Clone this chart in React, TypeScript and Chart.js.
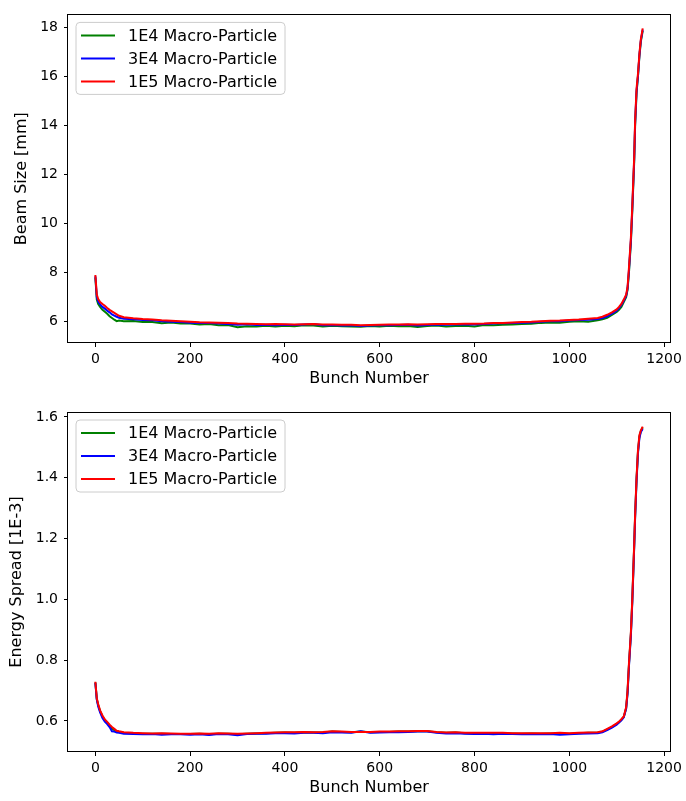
import React, { useEffect, useRef } from "react";
import { Chart, registerables } from "chart.js";

Chart.register(...registerables);

// ---------- data ----------
const bunchNumbers = [
  0, 3, 6, 10, 15, 20, 25, 30, 35, 40, 45, 50,
  60, 80, 100, 120, 140, 160, 180, 200,
  220, 240, 260, 280, 300, 320, 340, 360,
  380, 400, 420, 440, 460, 480, 500, 520,
  540, 560, 580, 600, 620, 640, 660, 680,
  700, 720, 740, 760, 780, 800, 820, 840,
  860, 880, 900, 920, 940, 960, 980, 1000,
  1020, 1040, 1060,
  1070, 1080, 1090, 1100, 1105, 1110, 1115, 1120, 1123, 1126, 1130, 1133, 1137, 1139, 1142, 1145, 1148, 1151, 1155,
];

const beamSize1E4 = [
  7.8, 6.9, 6.72, 6.6, 6.48, 6.4, 6.32, 6.22, 6.15, 6.08, 6.02, 6.05,
  6.02, 6.03, 5.99, 5.99, 5.94, 5.97, 5.92, 5.92,
  5.88, 5.9, 5.85, 5.86, 5.77, 5.81, 5.8, 5.83,
  5.8, 5.83, 5.81, 5.85, 5.84, 5.8, 5.83, 5.81,
  5.8, 5.79, 5.82, 5.8, 5.83, 5.81, 5.82, 5.78,
  5.82, 5.84, 5.8, 5.82, 5.83, 5.8, 5.86, 5.85,
  5.87, 5.88, 5.9, 5.91, 5.95, 5.97, 5.96, 6.0,
  6.02, 6.0, 6.06,
  6.1, 6.16, 6.28, 6.4, 6.48, 6.6, 6.8, 7.0, 7.3, 8.0, 9.2, 10.5, 12.5, 14.0, 15.3, 16.0, 16.8, 17.4, 17.85,
];

const beamSize3E4 = [
  7.85, 7.0, 6.82, 6.7, 6.6, 6.53, 6.45, 6.38, 6.3, 6.25, 6.2, 6.16,
  6.12, 6.1, 6.07, 6.06, 6.02, 6.0, 5.99, 5.96,
  5.95, 5.94, 5.92, 5.9, 5.87, 5.89, 5.86, 5.87,
  5.85, 5.87, 5.86, 5.88, 5.9, 5.85, 5.86, 5.84,
  5.85, 5.82, 5.84, 5.85, 5.85, 5.86, 5.87, 5.84,
  5.86, 5.88, 5.87, 5.88, 5.89, 5.88, 5.9, 5.92,
  5.93, 5.95, 5.96, 5.97, 6.0, 6.02, 6.02, 6.05,
  6.07, 6.08, 6.11,
  6.15, 6.22, 6.33, 6.45, 6.55, 6.68, 6.85, 7.05, 7.35, 8.1, 9.3, 10.6, 12.6, 14.1, 15.4, 16.0, 16.85, 17.45, 17.9,
];

const beamSize1E5 = [
  7.9, 7.1, 6.92, 6.8, 6.72, 6.65, 6.56, 6.48, 6.42, 6.36, 6.3, 6.24,
  6.18, 6.14, 6.11, 6.09, 6.06, 6.04, 6.02, 6.0,
  5.98, 5.97, 5.96, 5.94, 5.92, 5.91, 5.9, 5.89,
  5.9, 5.89, 5.88, 5.89, 5.9, 5.88, 5.88, 5.87,
  5.87, 5.85, 5.86, 5.87, 5.88, 5.88, 5.89, 5.88,
  5.89, 5.9, 5.9, 5.9, 5.91, 5.91, 5.92, 5.94,
  5.95, 5.97, 5.99, 6.0, 6.02, 6.04, 6.05, 6.07,
  6.09, 6.12, 6.15,
  6.2, 6.28, 6.38, 6.5, 6.6, 6.72, 6.9, 7.1, 7.4, 8.2, 9.4, 10.7, 12.7, 14.2, 15.5, 16.1, 16.9, 17.5, 17.95,
];

const spread1E4 = [
  0.727, 0.672, 0.652, 0.632, 0.615, 0.602, 0.594, 0.585, 0.575, 0.57, 0.566, 0.564,
  0.561, 0.56, 0.558, 0.558, 0.558, 0.557, 0.557, 0.557,
  0.558, 0.556, 0.558, 0.558, 0.556, 0.558, 0.559, 0.56,
  0.561, 0.562, 0.561, 0.563, 0.562, 0.562, 0.565, 0.564,
  0.563, 0.565, 0.563, 0.564, 0.564, 0.565, 0.565, 0.566,
  0.566, 0.563, 0.561, 0.562, 0.56, 0.559, 0.56, 0.559,
  0.56, 0.559, 0.558, 0.559, 0.558, 0.559, 0.558, 0.558,
  0.56, 0.561, 0.562,
  0.565, 0.572, 0.58, 0.59, 0.596, 0.604, 0.613, 0.642, 0.695, 0.785, 0.885, 0.995, 1.175, 1.275, 1.395, 1.485, 1.535, 1.553, 1.565,
];

const spread3E4 = [
  0.725, 0.67, 0.648, 0.628, 0.61, 0.598, 0.59, 0.58, 0.566, 0.565, 0.562, 0.561,
  0.558, 0.557, 0.556, 0.557, 0.555, 0.556, 0.556, 0.555,
  0.556, 0.554, 0.557, 0.556, 0.553, 0.557, 0.558, 0.558,
  0.56, 0.56, 0.559, 0.561, 0.561, 0.56, 0.563, 0.562,
  0.561, 0.566, 0.561, 0.562, 0.563, 0.563, 0.564, 0.565,
  0.565, 0.561, 0.559, 0.56, 0.558, 0.557, 0.558, 0.556,
  0.558, 0.557, 0.556, 0.557, 0.556, 0.557, 0.555, 0.556,
  0.558, 0.559, 0.56,
  0.563, 0.57, 0.578, 0.588, 0.595, 0.602, 0.612, 0.64, 0.69, 0.78, 0.88, 0.99, 1.17, 1.27, 1.39, 1.48, 1.53, 1.55, 1.56,
];

const spread1E5 = [
  0.729, 0.675, 0.655, 0.635, 0.618, 0.605, 0.597, 0.588, 0.58, 0.574, 0.568, 0.566,
  0.563, 0.561, 0.56, 0.559, 0.56, 0.559, 0.558, 0.558,
  0.559, 0.558, 0.56, 0.559, 0.558, 0.559, 0.56, 0.561,
  0.562, 0.563, 0.563, 0.564, 0.563, 0.564, 0.566, 0.565,
  0.564, 0.564, 0.564, 0.565, 0.565, 0.566, 0.566, 0.567,
  0.567, 0.564, 0.562, 0.563, 0.561, 0.561, 0.561, 0.561,
  0.561, 0.56, 0.56, 0.56, 0.56, 0.56, 0.561, 0.56,
  0.561, 0.562, 0.563,
  0.566, 0.574, 0.582, 0.592, 0.598, 0.606, 0.615, 0.645, 0.7, 0.79, 0.89, 1.0, 1.18, 1.28, 1.4, 1.49, 1.54, 1.555, 1.568,
];

const xTickValues = [0, 200, 400, 600, 800, 1000, 1200];
const beamTickValues = [6, 8, 10, 12, 14, 16, 18];
const spreadTickValues = [0.6, 0.8, 1.0, 1.2, 1.4, 1.6];

const seriesLabels = ["1E4 Macro-Particle", "3E4 Macro-Particle", "1E5 Macro-Particle"];
const seriesColors = ["#008000", "#0000ff", "#ff0000"];

const FONT = "'DejaVu Sans', Verdana, sans-serif";

// ---------- plugin: frame + in-plot legend ----------
const frameLegendPlugin = {
  id: "frameLegend",
  afterDatasetsDraw(chart: any) {
    const { ctx, chartArea } = chart;
    const { left, top, right, bottom } = chartArea;
    ctx.save();
    ctx.strokeStyle = "#000";
    ctx.lineWidth = 1;
    ctx.strokeRect(Math.round(left) - 0.5, Math.round(top) + 0.5, Math.round(right - left) + 1, Math.round(bottom - top) - 1);

    const bx = left + 8;
    const by = top + 8;
    const bw = 209;
    const bh = 72;
    const r = 4;
    ctx.beginPath();
    ctx.moveTo(bx + r, by);
    ctx.lineTo(bx + bw - r, by);
    ctx.arcTo(bx + bw, by, bx + bw, by + r, r);
    ctx.lineTo(bx + bw, by + bh - r);
    ctx.arcTo(bx + bw, by + bh, bx + bw - r, by + bh, r);
    ctx.lineTo(bx + r, by + bh);
    ctx.arcTo(bx, by + bh, bx, by + bh - r, r);
    ctx.lineTo(bx, by + r);
    ctx.arcTo(bx, by, bx + r, by, r);
    ctx.closePath();
    ctx.fillStyle = "rgba(255,255,255,0.8)";
    ctx.fill();
    ctx.strokeStyle = "#cccccc";
    ctx.lineWidth = 1;
    ctx.stroke();

    ctx.font = `16px ${FONT}`;
    ctx.textBaseline = "middle";
    ctx.textAlign = "left";
    chart.data.datasets.forEach((ds: any, i: number) => {
      const y = by + 13 + i * 23;
      ctx.strokeStyle = ds.borderColor;
      ctx.lineWidth = 2;
      ctx.beginPath();
      ctx.moveTo(bx + 5, y);
      ctx.lineTo(bx + 39, y);
      ctx.stroke();
      ctx.fillStyle = "#000";
      ctx.fillText(ds.label, bx + 52, y + 1);
    });
    ctx.restore();
  },
};

function makeConfig(opts: {
  series: number[][];
  yMin: number;
  yMax: number;
  yTicks: number[];
  yFmt: (v: number) => string;
  yTitle: string;
  yTitlePad: number;
  padTop: number;
  xAxisH: number;
  xTitlePadBottom: number;
}) {
  const datasets = opts.series.map((vals, i) => ({
    label: seriesLabels[i],
    data: bunchNumbers.map((b, j) => ({ x: b, y: vals[j] })),
    borderColor: seriesColors[i],
    backgroundColor: seriesColors[i],
    borderWidth: 2,
    pointRadius: 0,
    tension: 0,
    fill: false,
    // later series drawn on top (matplotlib order)
    order: opts.series.length - i,
  }));
  const tickFont = { family: FONT, size: 14 };
  const titleFont = { family: FONT, size: 16 };
  return {
    type: "line" as const,
    data: { datasets },
    options: {
      responsive: false,
      animation: false as const,
      layout: { padding: { left: 0, right: 15, top: opts.padTop, bottom: 0 } },
      plugins: { legend: { display: false }, tooltip: { enabled: false } },
      scales: {
        x: {
          type: "linear" as const,
          min: -57.75,
          max: 1212.75,
          afterBuildTicks: (s: any) => {
            s.ticks = xTickValues.map((v) => ({ value: v }));
          },
          afterFit: (s: any) => {
            s.height = opts.xAxisH;
          },
          grid: { drawOnChartArea: false, drawTicks: true, tickLength: 4, color: "#000", lineWidth: 1 },
          border: { display: false },
          ticks: {
            font: tickFont,
            color: "#000",
            padding: 4,
            maxRotation: 0,
            autoSkip: false,
            callback: (v: any) => String(v),
          },
          title: {
            display: true,
            text: "Bunch Number",
            font: titleFont,
            color: "#000",
            padding: { top: 0, bottom: opts.xTitlePadBottom },
          },
        },
        y: {
          type: "linear" as const,
          min: opts.yMin,
          max: opts.yMax,
          afterBuildTicks: (s: any) => {
            s.ticks = opts.yTicks.map((v) => ({ value: v }));
          },
          afterFit: (s: any) => {
            s.width = 68;
          },
          grid: { drawOnChartArea: false, drawTicks: true, tickLength: 4, color: "#000", lineWidth: 1 },
          border: { display: false },
          ticks: {
            font: tickFont,
            color: "#000",
            padding: 6,
            autoSkip: false,
            callback: (v: any) => opts.yFmt(Number(v)),
          },
          title: {
            display: true,
            text: opts.yTitle,
            font: titleFont,
            color: "#000",
            padding: { top: opts.yTitlePad, bottom: 0 },
          },
        },
      },
    },
    plugins: [frameLegendPlugin],
  };
}

function PlotCanvas({ config, width, height, top }: { config: any; width: number; height: number; top: number }) {
  const ref = useRef<HTMLCanvasElement | null>(null);
  useEffect(() => {
    if (!ref.current) return;
    const chart = new Chart(ref.current, config);
    return () => chart.destroy();
  }, [config]);
  return (
    <canvas
      ref={ref}
      width={width}
      height={height}
      style={{ position: "absolute", left: 0, top, width, height, display: "block" }}
    />
  );
}

const topConfig = makeConfig({
  series: [beamSize1E4, beamSize3E4, beamSize1E5],
  yMin: 5.13,
  yMax: 18.52,
  yTicks: beamTickValues,
  yFmt: (v) => String(Math.round(v)),
  yTitle: "Beam Size [mm]",
  yTitlePad: 12.4,
  padTop: 3,
  xAxisH: 52,
  xTitlePadBottom: 6.4,
});

const bottomConfig = makeConfig({
  series: [spread1E4, spread3E4, spread1E5],
  yMin: 0.498,
  yMax: 1.616,
  yTicks: spreadTickValues,
  yFmt: (v) => v.toFixed(1),
  yTitle: "Energy Spread [1E-3]",
  yTitlePad: 7.4,
  padTop: 17,
  xAxisH: 49,
  xTitlePadBottom: 3.4,
});

export default function App() {
  return (
    <div style={{ position: "absolute", left: 0, top: 0, width: 686, height: 801, background: "#fff", overflow: "hidden" }}>
      <PlotCanvas config={topConfig} width={686} height={395} top={0} />
      <PlotCanvas config={bottomConfig} width={686} height={406} top={395} />
    </div>
  );
}
